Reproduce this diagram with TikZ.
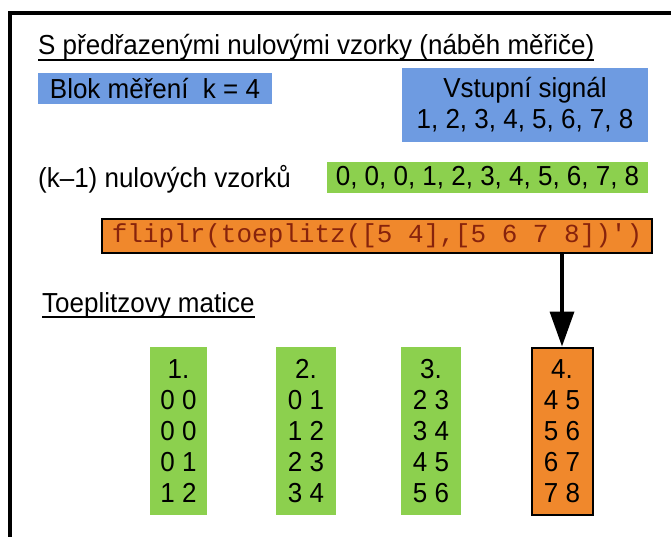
\documentclass[tikz,border=0pt]{standalone}
\usepackage{fontspec}
\setmainfont{Liberation Sans}[FakeStretch=0.945]
\setmonofont{Liberation Mono}
\usetikzlibrary{arrows.meta,positioning}

\definecolor{blokblue}{RGB}{110,155,225}
\definecolor{vzorgreen}{RGB}{140,208,78}
\definecolor{codeorange}{RGB}{240,136,44}
\definecolor{codered}{RGB}{135,35,12}

\tikzset{
  txt/.style={inner sep=0pt, anchor=base west, font=\fontsize{27.5}{31}\selectfont},
  box/.style={inner sep=0pt, align=center, font=\fontsize{27.5}{31}\selectfont},
  bluebox/.style={box, fill=blokblue},
  greenbox/.style={box, fill=vzorgreen},
  orangebox/.style={box, fill=codeorange, draw=black, line width=2pt},
  underl/.style={line width=1.6pt},
}

\begin{document}
\begin{tikzpicture}[x=1pt,y=-1pt]
  \fill[white] (0,0) rectangle (671,537);
  \useasboundingbox (0,0) rectangle (671,537);
  % frame
  \draw[line width=4pt] (10,537) -- (10,13) -- (671,13);

  % title
  \node[txt] (title) at (38,55) {S předřazenými nulovými vzorky (náběh měřiče)};
  \draw[underl] ([yshift=-5pt]title.base west) -- ([yshift=-5pt]title.base east);

  % inputs
  \node[bluebox, minimum width=234pt, minimum height=31pt] (blok) at (155,88.5)
      {Blok měření \ k = 4};
  \node[bluebox, minimum width=246pt, minimum height=74pt] (signal) at (525,105)
      {Vstupní signál\\1, 2, 3, 4, 5, 6, 7, 8};
  \node[txt] (nuly) at (38,188) {(k–1) nulových vzorků};
  \node[greenbox, minimum width=321pt, minimum height=31pt] (rada) at (487.5,177.5)
      {0, 0, 0, 1, 2, 3, 4, 5, 6, 7, 8};

  % matlab command
  \node[orangebox, minimum width=550pt, minimum height=33pt, text=codered,
      font=\fontsize{26}{30}\ttfamily] (code) at (377,236)
      {fliplr(toeplitz([5 4],[5 6 7 8])')};

  \node[txt] (matice) at (42,312) {Toeplitzovy matice};
  \draw[underl] ([yshift=-5pt]matice.base west) -- ([yshift=-5pt]matice.base east);

  % Toeplitz blocks
  \node[greenbox, minimum width=57pt, minimum height=168pt] (m1) at (178.5,431)
      {1.\\0 0\\0 0\\0 1\\1 2};
  \node[greenbox, minimum width=60pt, minimum height=168pt] (m2) at (306,431)
      {2.\\0 1\\1 2\\2 3\\3 4};
  \node[greenbox, minimum width=60pt, minimum height=168pt] (m3) at (431,431)
      {3.\\2 3\\3 4\\4 5\\5 6};
  \node[orangebox, minimum width=61pt, minimum height=167pt] (m4) at (562,431)
      {4.\\4 5\\5 6\\6 7\\7 8};

  \draw[line width=3.5pt, -{Triangle[width=24pt,length=35pt]}] (code.south -| m4.north) -- (m4.north);
\end{tikzpicture}
\end{document}
